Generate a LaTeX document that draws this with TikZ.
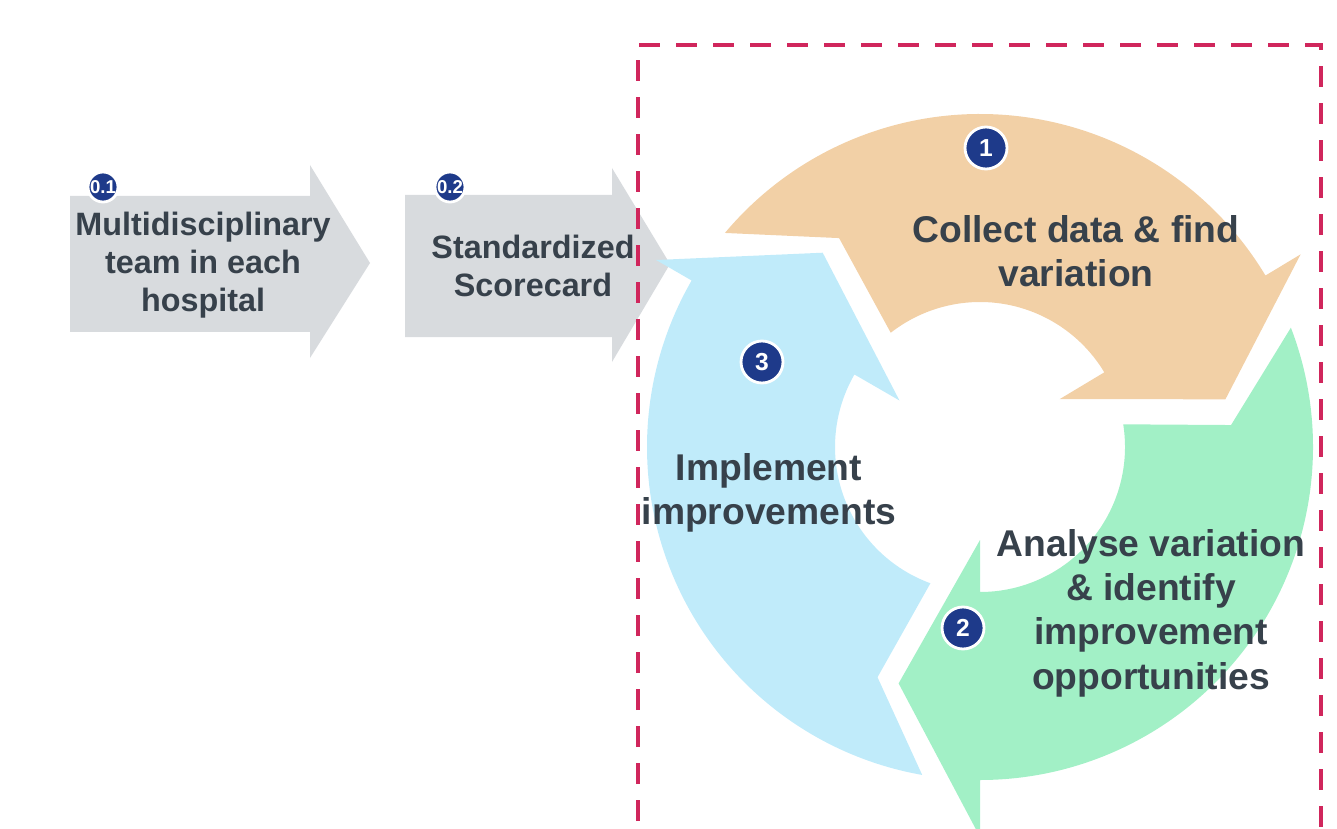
\documentclass[tikz,border=0pt]{standalone}
\usepackage{fontspec}
\setmainfont{Liberation Sans}
\usepackage{xcolor}
\usepackage{tikz}

\definecolor{stepgrey}{RGB}{216,219,222}
\definecolor{collect}{RGB}{242,208,166}
\definecolor{analyse}{RGB}{162,240,198}
\definecolor{implement}{RGB}{192,235,250}
\definecolor{badgeblue}{RGB}{30,58,138}
\definecolor{textgrey}{RGB}{55,65,75}
\definecolor{boxred}{RGB}{208,38,92}

\begin{document}
\begin{tikzpicture}[
        badge/.style={circle, fill=badgeblue, draw=white, line width=0.8pt, text=white,
            font=\bfseries\fontsize{7}{7}\selectfont, inner sep=0pt, minimum size=0.42cm},
        smallbadge/.style={badge, minimum size=0.3cm, font=\bfseries\fontsize{5.3}{5.3}\selectfont},
        steptext/.style={align=center, text=textgrey, font=\bfseries\fontsize{9.2}{10.9}\selectfont},
        cycletext/.style={align=center, text=textgrey, font=\bfseries\fontsize{10.6}{12.6}\selectfont},
    ]
    \useasboundingbox (0,0) rectangle (13.37,8.28);
    \clip (0,0) rectangle (13.37,8.28);

    % grey step arrows
    \fill[stepgrey] (0.70,4.96) -- (3.10,4.96) -- (3.10,4.70) -- (3.70,5.65)
        -- (3.10,6.63) -- (3.10,6.32) -- (0.70,6.32) -- cycle;
    \fill[stepgrey] (4.05,4.91) -- (6.12,4.91) -- (6.12,4.66) -- (6.70,5.64)
        -- (6.12,6.60) -- (6.12,6.33) -- (4.05,6.33) -- cycle;

    % the improvement cycle, drawn round its centre
    \begin{scope}[shift={(9.80,3.81)}]
        \fill[collect] (140:3.33) arc[start angle=140, end angle=31, radius=3.33]
            -- (31:3.74) -- (11:2.5) -- (31:0.93) -- (31:1.45)
            arc[start angle=31, end angle=128, radius=1.45] -- (124:2.52) -- cycle;
        \fill[analyse] (21:3.33) arc[start angle=21, end angle=-90, radius=3.33]
            -- (-90:3.9) -- (-109:2.5) -- (-90:0.93) -- (-90:1.45)
            arc[start angle=-90, end angle=9, radius=1.45] -- (5:2.52) -- cycle;
        \fill[implement] (260:3.33) arc[start angle=260, end angle=150, radius=3.33]
            -- (150:3.74) -- (129:2.5) -- (150:0.93) -- (150:1.45)
            arc[start angle=150, end angle=250, radius=1.45] -- (246:2.52) -- cycle;
    \end{scope}

    % dashed frame
    \draw[boxred, line width=1.4pt, dash pattern=on 0.21cm off 0.16cm]
        (6.38,-0.3) -- (6.38,7.83) -- (13.21,7.83) -- (13.21,-0.3);

    % texts
    \node[steptext] (team) at (2.03,5.63) {Multidisciplinary\\team in each\\hospital};
    \node[steptext] (card) at (5.33,5.62) {Standardized\\Scorecard};
    \node[cycletext] (collecttext) at (10.76,5.77) {Collect data \& find\\variation};
    \node[cycletext] (analysetext) at (11.51,2.15) {Analyse variation\\\& identify\\improvement\\opportunities};
    \node[cycletext] (implementtext) at (7.69,3.35) {Implement\\improvements};

    % numbered badges
    \node[smallbadge] (b01) at (1.03,6.41) {0.1};
    \node[smallbadge] (b02) at (4.50,6.41) {0.2};
    \node[badge] (b1) at (9.86,6.80) {1};
    \node[badge] (b2) at (9.63,2.00) {2};
    \node[badge] (b3) at (7.62,4.66) {3};
\end{tikzpicture}
\end{document}
